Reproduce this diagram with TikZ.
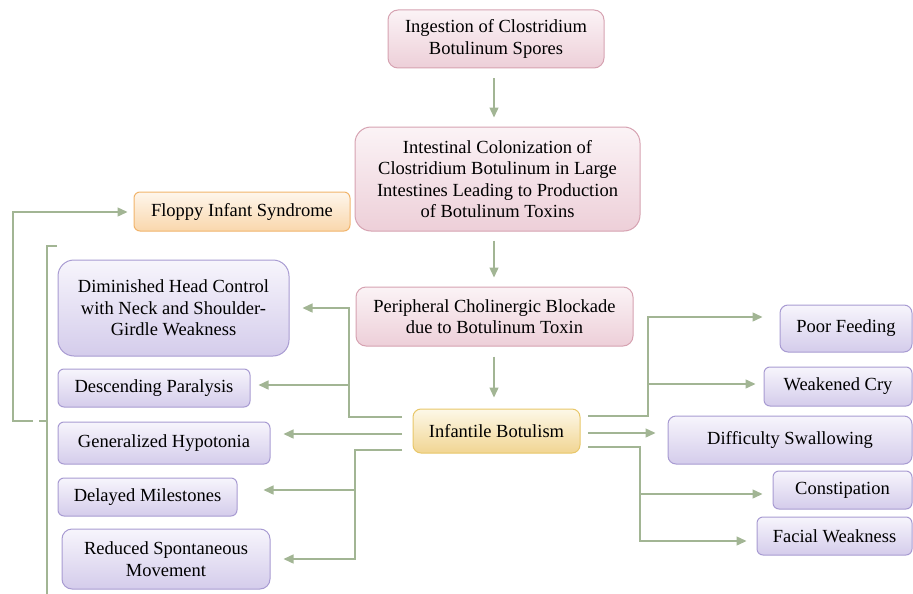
\documentclass[tikz,border=0pt]{standalone}
\usepackage{fontspec}
\setmainfont{Liberation Serif}
\usetikzlibrary{arrows.meta}
\definecolor{lineC}{HTML}{A2B594}
\definecolor{pinkB}{HTML}{D6A2B1}
\definecolor{pinkT}{HTML}{FBF3F6}
\definecolor{pinkD}{HTML}{EDCFD8}
\definecolor{purB}{HTML}{A89BD2}
\definecolor{purT}{HTML}{F7F5FC}
\definecolor{purD}{HTML}{D4CCEB}
\definecolor{oraB}{HTML}{F1B46C}
\definecolor{oraT}{HTML}{FEF6EC}
\definecolor{oraD}{HTML}{F9D7AC}
\definecolor{yelB}{HTML}{E8C769}
\definecolor{yelT}{HTML}{FDF8E8}
\definecolor{yelD}{HTML}{F1D592}
\tikzset{
  box/.style={draw, line width=1pt, align=center, inner sep=0pt,
    font=\fontsize{18.5}{21.5}\selectfont, text=black},
  pinkbox/.style={box, draw=pinkB, top color=pinkT, bottom color=pinkD},
  purbox/.style={box, draw=purB, top color=purT, bottom color=purD},
  orabox/.style={box, draw=oraB, top color=oraT, bottom color=oraD},
  yelbox/.style={box, draw=yelB, top color=yelT, bottom color=yelD},
  conn/.style={draw=lineC, line width=1.4pt, -{Triangle[length=10pt,width=9pt]}},
  plain/.style={draw=lineC, line width=1.4pt},
}
\begin{document}
\begin{tikzpicture}[x=1pt,y=-1pt]
\useasboundingbox (0,0) rectangle (913,594);
% nodes
\node[pinkbox, minimum width=216pt, minimum height=58pt, rounded corners=10pt] (ing) at (496,39) {Ingestion of Clostridium\\Botulinum Spores};
\node[pinkbox, minimum width=285pt, minimum height=104pt, rounded corners=16pt] (intest) at (497.5,179) {Intestinal Colonization of\\Clostridium Botulinum in Large\\Intestines Leading to Production\\of Botulinum Toxins};
\node[orabox, minimum width=216pt, minimum height=39pt, rounded corners=6pt] (floppy) at (242,211.5) {Floppy Infant Syndrome};
\node[pinkbox, minimum width=277pt, minimum height=59pt, rounded corners=10pt] (periph) at (494.5,316.5) {Peripheral Cholinergic Blockade\\due to Botulinum Toxin};
\node[yelbox, minimum width=167pt, minimum height=44pt, rounded corners=8pt] (ib) at (496.5,431) {Infantile Botulism};
\node[purbox, minimum width=231pt, minimum height=96pt, rounded corners=16pt] (dim) at (173.5,308) {Diminished Head Control\\with Neck and Shoulder-\\Girdle Weakness};
\node[purbox, minimum width=192pt, minimum height=38pt, rounded corners=6pt] (desc) at (154,388) {Descending Paralysis};
\node[purbox, minimum width=212pt, minimum height=42pt, rounded corners=6pt] (gen) at (164,443) {Generalized Hypotonia};
\node[purbox, minimum width=179pt, minimum height=38pt, rounded corners=6pt] (del) at (147.5,497) {Delayed Milestones};
\node[purbox, minimum width=208pt, minimum height=60pt, rounded corners=10pt] (red) at (166,559) {Reduced Spontaneous\\Movement};
\node[purbox, minimum width=132pt, minimum height=47pt, rounded corners=8pt] (poor) at (846,328.5) {Poor Feeding};
\node[purbox, minimum width=148pt, minimum height=39pt, rounded corners=6pt] (weak) at (838,386.5) {Weakened Cry};
\node[purbox, minimum width=244pt, minimum height=48pt, rounded corners=8pt] (diff) at (790,440) {Difficulty Swallowing};
\node[purbox, minimum width=139pt, minimum height=38pt, rounded corners=6pt] (const) at (842.5,490) {Constipation};
\node[purbox, minimum width=155pt, minimum height=38pt, rounded corners=6pt] (facial) at (834.5,536) {Facial Weakness};
% vertical chain
\draw[conn, shorten <=10pt, shorten >=9pt] ([xshift=-2pt]ing.south) -- ([xshift=-2pt]ing.south |- intest.north);
\draw[conn, shorten <=9pt, shorten >=9pt] ([xshift=-3.5pt]intest.south) -- ([xshift=-3.5pt]intest.south |- periph.north);
\draw[conn, shorten <=10pt, shorten >=11pt] ([xshift=-0.5pt]periph.south) -- ([xshift=-0.5pt]periph.south |- ib.north);
% left side
\coordinate (l1) at (402,417);
\coordinate (l1v) at (349,417);
\coordinate (l1b) at (349,385);
\coordinate (l2) at (402,434);
\coordinate (l3) at (402,450);
\coordinate (l3v) at (355,450);
\coordinate (l3b) at (355,490);
\draw[conn, shorten >=13pt] (l1) -- (l1v) |- (dim.east);
\draw[conn, shorten >=8pt] (l1b) -- (l1b -| desc.east);
\draw[conn, shorten >=13pt] (l2) -- (l2 -| gen.east);
\draw[conn, shorten >=13pt] (l3) -- (l3v) |- (red.east);
\draw[conn, shorten >=26pt] (l3b) -- (l3b -| del.east);
% right side
\coordinate (r1) at (588,416);
\coordinate (r1v) at (648,416);
\coordinate (r1t) at (648,317);
\coordinate (r1b) at (648,384);
\coordinate (r2) at (588,433);
\coordinate (r3) at (588,447);
\coordinate (r3v) at (640,447);
\coordinate (r3t) at (640,541);
\coordinate (r3b) at (640,494);
\draw[conn, shorten >=17pt] (r1) -- (r1v) -- (r1t) -- (r1t -| poor.west);
\draw[conn, shorten >=8pt] (r1b) -- (r1b -| weak.west);
\draw[conn, shorten >=12pt] (r2) -- (r2 -| diff.west);
\draw[conn, shorten >=10pt] (r3) -- (r3v) -- (r3t) -- (r3t -| facial.west);
\draw[conn, shorten >=10pt] (r3b) -- (r3b -| const.west);
% bracket and floppy
\coordinate (bt) at (57,246);
\coordinate (bt2) at (47,246);
\coordinate (bb) at (47,594);
\coordinate (bm) at (47,421);
\coordinate (bn) at (39,421);
\coordinate (f0) at (33,421);
\coordinate (f1) at (13,421);
\coordinate (f2) at (13,212);
\draw[plain] (bt) -- (bt2) -- (bb);
\draw[plain] (bm) -- (bn);
\draw[conn, shorten >=6pt] (f0) -- (f1) -- (f2) -- (f2 -| floppy.west);
\end{tikzpicture}
\end{document}
